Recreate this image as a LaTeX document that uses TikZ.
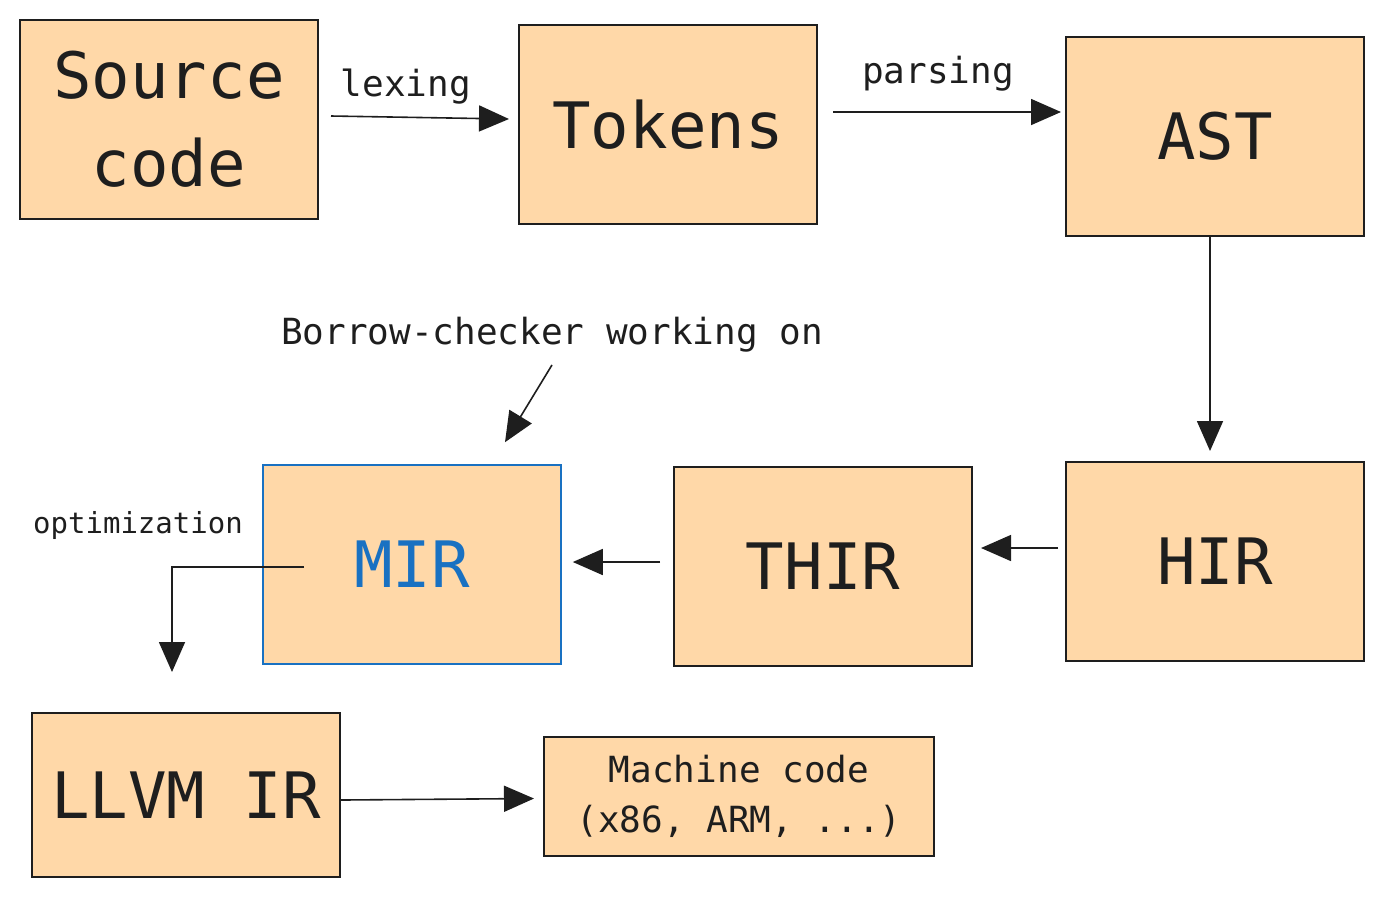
\documentclass[tikz,border=0pt]{standalone}
\usepackage{fontspec}
\setmainfont{DejaVu Sans Mono}
\usetikzlibrary{arrows.meta, positioning}

\definecolor{peach}{HTML}{FFD8A8}
\definecolor{ink}{HTML}{1E1E1E}
\definecolor{mirblue}{HTML}{1971C2}

\tikzset{
	stage/.style={draw=ink, fill=peach, line width=1pt, text=ink, inner sep=0pt, align=center,
		font=\fontsize{32}{44}\selectfont},
	note/.style={text=ink, inner sep=0pt, font=\fontsize{18}{25}\selectfont},
	flow/.style={draw=ink, line width=0.8pt, -{Triangle[length=15pt, width=13pt]}}
}

\begin{document}
\begin{tikzpicture}[x=0.5pt, y=-0.5pt]
		\useasboundingbox (0,0) rectangle (1384,896);
		
		% top row
		\node[stage, minimum width=149pt, minimum height=99.5pt] (src) at (169,119.5) {Source\\code};
		\node[stage, minimum width=149pt, minimum height=99.5pt] (tok) at (668,124.5) {Tokens};
		\node[stage, minimum width=149pt, minimum height=99.5pt] (ast) at (1215,136.5) {AST};
		
		% middle row
		\node[stage, minimum width=149pt, minimum height=99.5pt] (hir) at (1215,561.5) {HIR};
		\node[stage, minimum width=149pt, minimum height=99.5pt] (thir) at (823,566.5) {THIR};
		\node[stage, draw=mirblue, text=mirblue, line width=0.8pt, minimum width=149pt, minimum height=99.5pt] (mir) at (412,564.5) {MIR};
		
		% bottom row
		\node[stage, minimum width=154pt, minimum height=82pt] (llvm) at (186,795) {LLVM IR};
		\node[stage, font=\fontsize{18}{25}\selectfont, minimum width=195pt, minimum height=59.5pt] (mc) at (739,796.5) {Machine code\\(x86, ARM, ...)};
		
		% notes
		\node[note] (bc) at (552,335) {Borrow-checker working on};
		\node[note, font=\fontsize{14.5}{18}\selectfont] (opt) at (138,525) {optimization};
		
		% arrows
		\draw[flow] ([xshift=6pt, yshift=1.75pt]src.east) -- ([xshift=-4.5pt, yshift=2.75pt]tok.west)
			node[note, pos=0.42, above=6pt] (lex) {lexing};
		\draw[flow] ([xshift=7.5pt, yshift=6.25pt]tok.east) -- ([xshift=-2pt, yshift=12.25pt]ast.west)
			node[note, pos=0.46, above=10pt] (par) {parsing};
		\draw[flow] ([xshift=-2.5pt]ast.south) -- ([xshift=-2.5pt, yshift=5pt]hir.north);
		\draw[flow] ([xshift=-3.5pt, yshift=6.75pt]hir.west) -- ([xshift=4pt, yshift=9.25pt]thir.east);
		\draw[flow] ([xshift=-6.5pt, yshift=2.25pt]thir.west) -- ([xshift=5.5pt, yshift=1.25pt]mir.east);
		\draw[flow] ([xshift=21pt, yshift=-1.25pt]mir.west) -| ([xshift=-7pt, yshift=20pt]llvm.north);
		\draw[flow] ([yshift=-6pt]bc.south) -- ([xshift=46.5pt, yshift=11pt]mir.north);
		\draw[flow] ([yshift=-2.5pt]llvm.east) -- ([xshift=-4.5pt, yshift=-1pt]mc.west);
\end{tikzpicture}
\end{document}
